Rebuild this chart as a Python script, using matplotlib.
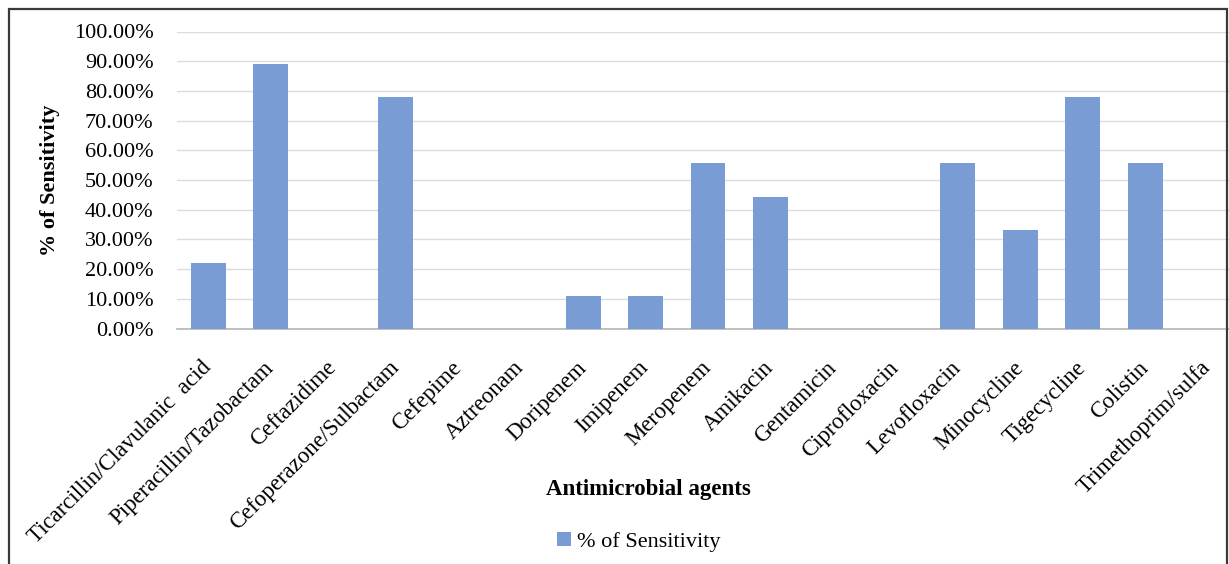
import matplotlib
matplotlib.use('Agg')
import matplotlib.pyplot as plt
from matplotlib.patches import Rectangle
from matplotlib.ticker import FuncFormatter, MultipleLocator

agents = ['Ticarcillin/Clavulanic  acid', 'Piperacillin/Tazobactam', 'Ceftazidime',
          'Cefoperazone/Sulbactam', 'Cefepime', 'Aztreonam', 'Doripenem', 'Imipenem',
          'Meropenem', 'Amikacin', 'Gentamicin', 'Ciprofloxacin', 'Levofloxacin',
          'Minocycline', 'Tigecycline', 'Colistin', 'Trimethoprim/sulfa']
sensitivity = [22.22, 88.89, 0, 77.78, 0, 0, 11.11, 11.11,
               55.56, 44.44, 0, 0, 55.56, 33.33, 77.78, 55.56, 0]

plt.rcParams['font.family'] = ['Liberation Serif', 'DejaVu Serif']

W, H = 1229, 564
fig = plt.figure(figsize=(W / 100, H / 100), dpi=100)

# plot area runs a little past the right edge of the figure
left, right, bottom, top = 177, 1239, 328.5, 31.5
ax = fig.add_axes([left / W, 1 - bottom / H, (right - left) / W, (bottom - top) / H])

bar_color = '#7a9cd4'
x = list(range(len(agents)))
ax.bar(x, [v / 100 for v in sensitivity], width=0.56, color=bar_color, zorder=3,
       label='% of Sensitivity')

ax.set_xlim(-0.5, len(agents) - 0.5)
ax.set_ylim(0, 1.0)
ax.yaxis.set_major_locator(MultipleLocator(0.1))
ax.yaxis.set_major_formatter(FuncFormatter(lambda v, pos: '{:.2f}%'.format(v * 100)))
ax.grid(axis='y', color='#dcdcdc', linewidth=1.0, zorder=0)
ax.set_axisbelow(True)

for side in ['top', 'right', 'left']:
    ax.spines[side].set_visible(False)
ax.spines['bottom'].set_color('#b5b5b5')
ax.spines['bottom'].set_linewidth(1.2)
ax.tick_params(axis='both', length=0, labelsize=16)
ax.tick_params(axis='y', pad=17)

ax.set_xticks(x)
ax.set_xticklabels(agents, rotation=45, ha='right', va='center', rotation_mode='anchor')
for lbl in ax.get_xticklabels():
    lbl.set_fontsize(16.5)
ax.tick_params(axis='x', pad=26)

ax.set_ylabel('% of Sensitivity', fontsize=16, fontweight='bold', labelpad=10)
fig.text(648 / W, 1 - 489 / H, 'Antimicrobial agents', fontsize=16.5, fontweight='bold',
         ha='center', va='center')

fig.legend(loc='center', bbox_to_anchor=(639 / W, 1 - 542 / H), frameon=False,
           fontsize=16, handlelength=0.6, handleheight=0.6, handletextpad=0.3)

# outer frame of the chart
fig.patches.append(Rectangle((9 / W, -0.05), (1227 - 9) / W, 1.05 - 9 / H,
                             transform=fig.transFigure, fill=False,
                             edgecolor='#3a3a3a', linewidth=1.6))

fig.savefig('out.png', dpi=100)
